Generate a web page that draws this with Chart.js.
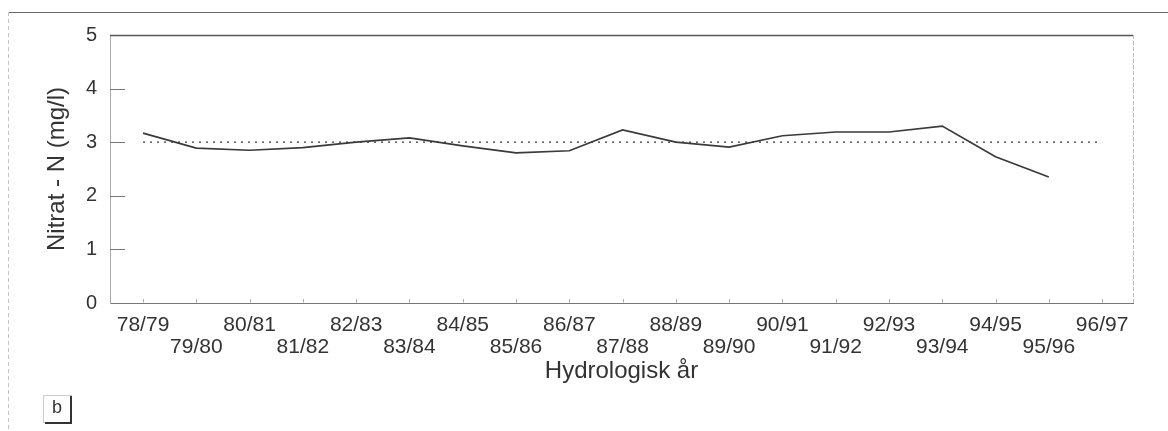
<!DOCTYPE html>
<html><head><meta charset="utf-8">
<script src="https://cdn.jsdelivr.net/npm/chart.js@4/dist/chart.umd.min.js"></script>
<style>html,body{margin:0;padding:0;background:#fff;}#wrap{width:1168px;height:431px;}</style>
</head><body><div id="wrap"><canvas id="c" width="1168" height="431"></canvas></div>
<script>
const categories = ['78/79','79/80','80/81','81/82','82/83','83/84','84/85','85/86','86/87','87/88','88/89','89/90','90/91','91/92','92/93','93/94','94/95','95/96','96/97'];
const nitrateValues = [3.17,2.89,2.85,2.90,3.00,3.08,2.93,2.80,2.84,3.23,3.00,2.91,3.12,3.19,3.19,3.30,2.73,2.35,null];
const referenceIndex = [0, 18];
const referenceValues = [3.0, 3.0];
const yTickValues = [0,1,2,3,4,5];

const FONT = "'Liberation Sans', Arial, sans-serif";
const TXT = '#333';

const lineData = categories.map((c,i)=>({x:i, y:nitrateValues[i]}));
const refData = referenceIndex.map((xi,i)=>({x:xi, y:referenceValues[i]}));

function seg(ctx,x1,y1,x2,y2){ctx.beginPath();ctx.moveTo(x1,y1);ctx.lineTo(x2,y2);ctx.stroke();}

const framePlugin = {
  id:'frame',
  beforeDraw(chart){
    const ctx=chart.ctx; ctx.save(); ctx.fillStyle='#fff'; ctx.fillRect(0,0,chart.width,chart.height); ctx.restore();
  },
  afterDraw(chart){
    const {ctx, chartArea:a, scales:{x,y}} = chart;
    ctx.save();
    ctx.strokeStyle='#666'; ctx.lineWidth=1.2;
    seg(ctx,8,12.5,1168,12.5);
    ctx.strokeStyle='#c4c4c4'; ctx.lineWidth=1; ctx.setLineDash([4,3]);
    seg(ctx,8.5,12,8.5,431);
    ctx.setLineDash([]);
    ctx.strokeStyle='#555'; ctx.lineWidth=1.3;
    seg(ctx,a.left,a.top+0.5,a.right,a.top+0.5);
    ctx.strokeStyle='#bbb'; ctx.lineWidth=1; ctx.setLineDash([4,2]);
    seg(ctx,a.right+0.5,a.top,a.right+0.5,a.bottom);
    ctx.setLineDash([]);
    ctx.strokeStyle='#777'; ctx.lineWidth=1;
    y.ticks.forEach(t=>{ if(t.value>0 && t.value<5){const py=Math.round(y.getPixelForValue(t.value))+0.5; seg(ctx,a.left,py,a.left+15,py);} });
    ctx.strokeStyle='#aaa';
    x.ticks.forEach(t=>{ const px=Math.round(x.getPixelForValue(t.value))+0.5; seg(ctx,px,a.bottom-0.5,px,a.bottom-4); });
    ctx.strokeStyle='#ccc'; ctx.lineWidth=1;
    ctx.strokeRect(43.5,395.5,28,27);
    ctx.strokeStyle='#333'; ctx.lineWidth=2;
    ctx.beginPath(); ctx.moveTo(71,396); ctx.lineTo(71,423); ctx.lineTo(45,423); ctx.stroke();
    ctx.fillStyle=TXT; ctx.font="18px "+FONT; ctx.textAlign='center'; ctx.textBaseline='middle';
    ctx.fillText('b',57,408);
    ctx.restore();
  }
};

new Chart(document.getElementById('c'), {
  type:'line',
  data:{datasets:[
    {data:lineData, borderColor:'#3a3a3a', borderWidth:1.7, pointRadius:0, tension:0, fill:false},
    {data:refData, borderColor:'#333', borderWidth:1.3, borderDash:[2,5], pointRadius:0, tension:0, fill:false}
  ]},
  options:{
    responsive:false, animation:false, devicePixelRatio:1,
    layout:{padding:{top:35,right:35,left:0,bottom:0}},
    plugins:{legend:{display:false}, tooltip:{enabled:false}},
    scales:{
      x:{type:'linear', min:-0.62, max:18.58,
        grid:{display:false, drawTicks:false},
        border:{display:true, color:'#777', width:1},
        afterBuildTicks:(s)=>{ s.ticks = categories.map((c,i)=>({value:i})); },
        ticks:{autoSkip:false, maxRotation:0, minRotation:0, padding:11,
          color:TXT, font:{family:FONT, size:21, lineHeight:1.05},
          callback:(v)=>{ const i=Math.round(v); if(i<0||i>=categories.length) return ''; return i%2===0 ? [categories[i],''] : ['',categories[i]]; }},
        title:{display:true, text:'Hydrologisk år', color:TXT, font:{family:FONT, size:24, lineHeight:1.2}, padding:{top:0,bottom:45}},
        afterFit:(s)=>{s.height=128;}
      },
      y:{min:0, max:5,
        grid:{display:false, drawTicks:false},
        border:{display:true, color:'#aaa', width:1},
        afterBuildTicks:(s)=>{ s.ticks = yTickValues.map(v=>({value:v})); },
        ticks:{padding:13, color:TXT, font:{family:FONT, size:20}},
        title:{display:true, text:'Nitrat - N (mg/l)', color:TXT, font:{family:FONT, size:24, lineHeight:1.2}, padding:{top:43,bottom:0}},
        afterFit:(s)=>{s.width=110;}
      }
    }
  },
  plugins:[framePlugin]
});
</script></body></html>
